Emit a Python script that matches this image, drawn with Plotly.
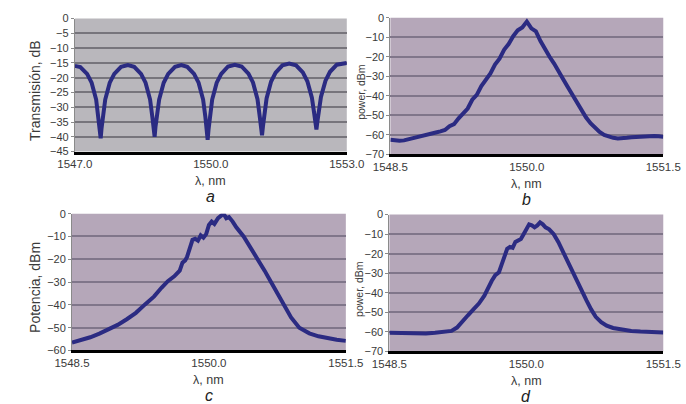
import plotly.graph_objects as go

# ---- (a) transmission comb of the interferometric filter ----
wl_a = [1547.00, 1547.12, 1547.27, 1547.37, 1547.47, 1547.52, 1547.55, 1547.57, 1547.59, 1547.62,
        1547.67, 1547.77, 1547.87, 1548.02, 1548.17,
        1548.31, 1548.46, 1548.56, 1548.66, 1548.71, 1548.74, 1548.76, 1548.78, 1548.81, 1548.86,
        1548.96, 1549.06, 1549.21, 1549.35,
        1549.48, 1549.63, 1549.73, 1549.83, 1549.88, 1549.91, 1549.93, 1549.95, 1549.98, 1550.03,
        1550.13, 1550.23, 1550.38, 1550.53,
        1550.68, 1550.83, 1550.93, 1551.03, 1551.08, 1551.11, 1551.13, 1551.15, 1551.18, 1551.23,
        1551.33, 1551.43, 1551.58, 1551.73,
        1551.88, 1552.03, 1552.13, 1552.23, 1552.28, 1552.31, 1552.33, 1552.35, 1552.38, 1552.43,
        1552.53, 1552.63, 1552.78, 1552.93, 1553.00]
trans_a = [-16.0, -16.4, -18.7, -21.7, -27.4, -33.3, -37.0, -40.5, -37.0, -33.3,
           -27.4, -21.7, -18.7, -16.3, -15.7,
           -16.3, -18.7, -21.7, -27.4, -33.3, -36.5, -40.0, -36.5, -33.3, -27.4,
           -21.7, -18.7, -16.3, -15.7,
           -16.3, -18.7, -21.7, -27.4, -33.3, -37.5, -41.0, -37.5, -33.3, -27.4,
           -21.7, -18.7, -16.2, -15.6,
           -16.2, -18.6, -21.6, -27.3, -33.2, -36.5, -39.5, -36.5, -33.0, -27.0,
           -21.3, -18.3, -15.8, -15.2,
           -15.8, -18.2, -21.2, -26.8, -32.0, -35.0, -37.5, -35.0, -32.0, -26.5,
           -21.0, -18.0, -15.6, -15.0, -15.0]

# ---- (b) output spectrum ----
wl_b = [1548.50, 1548.55, 1548.60, 1548.65, 1548.70, 1548.75, 1548.80, 1548.85, 1548.90, 1548.95,
        1549.00, 1549.05, 1549.10, 1549.15, 1549.20, 1549.25, 1549.30, 1549.35, 1549.40, 1549.45,
        1549.50, 1549.55, 1549.60, 1549.65, 1549.70, 1549.75, 1549.80, 1549.85, 1549.90, 1549.95,
        1550.00, 1550.05, 1550.10, 1550.15, 1550.20, 1550.25, 1550.30, 1550.35, 1550.40, 1550.45,
        1550.50, 1550.55, 1550.60, 1550.65, 1550.70, 1550.75, 1550.80, 1550.85, 1550.90, 1550.95,
        1551.00, 1551.05, 1551.10, 1551.15, 1551.20, 1551.25, 1551.30, 1551.35, 1551.40, 1551.45,
        1551.50]
pow_b = [-62.5, -62.8, -63.0, -62.8, -62.3, -61.8, -61.0, -60.5, -59.8, -59.3,
         -58.8, -58.2, -57.5, -55.5, -54.5, -51.5, -49.0, -46.5, -42.0, -39.5,
         -35.0, -32.0, -28.5, -24.0, -21.0, -16.5, -13.5, -9.5, -6.5, -5.0,
         -2.0, -5.5, -7.0, -12.0, -16.5, -20.0, -23.5, -28.0, -31.5, -35.5,
         -39.5, -43.5, -47.5, -51.0, -54.0, -56.5, -58.5, -60.0, -61.0, -61.5,
         -61.8, -61.8, -61.5, -61.2, -61.0, -60.8, -60.8, -60.6, -60.5, -60.7,
         -61.0]

# ---- (c) output spectrum ----
wl_c = [1548.50, 1548.60, 1548.70, 1548.80, 1548.90, 1549.00, 1549.10, 1549.20, 1549.30, 1549.40,
        1549.48, 1549.55, 1549.62, 1549.68, 1549.71, 1549.74, 1549.76, 1549.79, 1549.82, 1549.85,
        1549.88, 1549.91, 1549.94, 1549.97, 1550.00, 1550.03, 1550.06, 1550.10, 1550.14, 1550.16,
        1550.19, 1550.22, 1550.26, 1550.30, 1550.38, 1550.46, 1550.54, 1550.61, 1550.68, 1550.75,
        1550.82, 1550.90, 1550.99, 1551.10, 1551.20, 1551.30, 1551.40, 1551.50]
pow_c = [-56.5, -55.5, -54.2, -52.6, -50.9, -48.8, -46.3, -43.5, -39.8, -36.3,
         -32.5, -29.6, -27.5, -25.0, -21.5, -20.5, -19.0, -14.5, -11.5, -11.0,
         -11.8, -9.5, -10.5, -9.0, -5.0, -3.5, -4.5, -2.0, -0.5, 0.0,
         -2.0, -1.5, -3.5, -6.0, -10.0, -15.0, -20.0, -25.0, -30.0, -35.0,
         -40.0, -45.5, -50.0, -52.5, -53.8, -54.7, -55.3, -55.8]

# ---- (d) output spectrum ----
wl_d = [1548.50, 1548.60, 1548.70, 1548.80, 1548.90, 1549.00, 1549.10, 1549.18, 1549.24, 1549.30,
        1549.36, 1549.42, 1549.48, 1549.54, 1549.58, 1549.62, 1549.66, 1549.70, 1549.73, 1549.76,
        1549.79, 1549.82, 1549.85, 1549.88, 1549.91, 1549.94, 1549.97, 1550.00, 1550.03, 1550.06,
        1550.09, 1550.12, 1550.15, 1550.18, 1550.21, 1550.25, 1550.30, 1550.35, 1550.40, 1550.45,
        1550.50, 1550.56, 1550.61, 1550.66, 1550.71, 1550.76, 1550.82, 1550.88, 1550.95, 1551.05,
        1551.15, 1551.25, 1551.35, 1551.50]
pow_d = [-60.5, -60.6, -60.9, -61.0, -60.8, -60.5, -60.2, -59.5, -57.8, -55.0,
         -51.5, -48.5, -45.5, -41.5, -37.5, -34.0, -31.0, -29.5, -25.5, -21.0,
         -17.5, -16.5, -17.0, -14.0, -13.0, -12.5, -10.0, -7.5, -5.0, -5.5,
         -6.5, -5.5, -4.0, -5.0, -6.5, -7.5, -10.0, -14.0, -19.0, -24.0,
         -29.0, -34.0, -39.0, -44.0, -48.5, -52.3, -55.0, -56.8, -58.0, -59.0,
         -59.5, -59.8, -60.0, -60.3]

# axis ticks
xt_a = [1547.0, 1550.0, 1553.0]
xt_bcd = [1548.5, 1550.0, 1551.5]
yt_a = [0, -5, -10, -15, -20, -25, -30, -35, -40, -45]
yt_bd = [0, -10, -20, -30, -40, -50, -60, -70]
yt_c = [0, -10, -20, -30, -40, -50, -60]

W, H = 686, 404
LINE = "#2b2b82"
FONT = "Liberation Sans, Arial, sans-serif"


def px_x(v):
    return v / W


def px_y(v):
    return 1 - v / H


panels = [
    # name, x data, y data, x ticks, y ticks, pixel box (left, right, top, bottom),
    # background, grid colour, y title, title size, title x, panel letter
    ("1", wl_a, trans_a, xt_a, yt_a, (60, 347, 13, 150), "#b9b7bc", "#77757c",
     "Transmisión, dB", 14, 18, "a"),
    ("2", wl_b, pow_b, xt_bcd, yt_bd, (393, 681, 12, 153), "#b5a7b9", "#80768a",
     "power, dBm", 10.5, 362, "b"),
    ("3", wl_c, pow_c, xt_bcd, yt_c, (57, 346, 214, 355), "#b5a7b9", "#80768a",
     "Potencia, dBm", 14, 18, "c"),
    ("4", wl_d, pow_d, xt_bcd, yt_bd, (392, 681, 215, 356), "#b5a7b9", "#80768a",
     "power, dBm", 10.5, 360, "d"),
]

fig = go.Figure()
layout = dict(
    width=W, height=H,
    margin=dict(l=0, r=0, t=0, b=0),
    paper_bgcolor="white",
    plot_bgcolor="rgba(0,0,0,0)",
    showlegend=False,
    font=dict(family=FONT, color="#333333", size=11),
)
shapes = []
annotations = []

for name, xs, ys, xt, yt, box, bg, grid, ytitle, tsize, tx, letter in panels:
    left, right, top, bottom = box
    xa = "x" if name == "1" else "x" + name
    ya = "y" if name == "1" else "y" + name
    fig.add_trace(go.Scatter(
        x=xs, y=ys, mode="lines", xaxis=xa, yaxis=ya,
        line=dict(color=LINE, width=4),
    ))
    key_x = "xaxis" if name == "1" else "xaxis" + name
    key_y = "yaxis" if name == "1" else "yaxis" + name
    layout[key_x] = dict(
        domain=[px_x(left), px_x(right)],
        anchor=ya,
        range=[xt[0], xt[-1]],
        tickvals=xt,
        ticktext=[f"{v:.1f}" for v in xt],
        showgrid=False, zeroline=False,
        showline=True, linecolor="black", linewidth=3,
        ticks="", tickfont=dict(size=11.5, color="#3a3a3a"),
    )
    layout[key_y] = dict(
        domain=[px_y(bottom), px_y(top)],
        anchor=xa,
        range=[yt[-1], yt[0]],
        tickvals=yt,
        showgrid=True, gridcolor=grid, gridwidth=1.5,
        zeroline=False,
        showline=True, linecolor="#8a8a8a", linewidth=1,
        ticks="outside", ticklen=3, tickcolor="#8a8a8a",
        tickfont=dict(size=11, color="#3a3a3a"),
    )
    shapes.append(dict(
        type="rect", xref=f"{xa} domain", yref=f"{ya} domain",
        x0=0, x1=1, y0=0, y1=1, layer="below",
        fillcolor=bg, line=dict(width=0),
    ))
    cx = (left + right) / 2
    annotations.append(dict(
        text=ytitle, textangle=-90, xref="paper", yref="paper",
        x=px_x(tx), y=px_y((top + bottom) / 2 + 6), showarrow=False,
        xanchor="center", yanchor="middle",
        font=dict(size=tsize, color="#3a3a3a"),
    ))
    annotations.append(dict(
        text="λ, nm", xref="paper", yref="paper",
        x=px_x(cx), y=px_y(bottom + 30), showarrow=False,
        xanchor="center", yanchor="middle",
        font=dict(size=12.5, color="#3a3a3a"),
    ))
    annotations.append(dict(
        text=f"<i>{letter}</i>", xref="paper", yref="paper",
        x=px_x(cx), y=px_y(bottom + 46), showarrow=False,
        xanchor="center", yanchor="middle",
        font=dict(size=16, color="#222222"),
    ))

layout["shapes"] = shapes
layout["annotations"] = annotations
fig.update_layout(**layout)
fig.write_html("out.html")
